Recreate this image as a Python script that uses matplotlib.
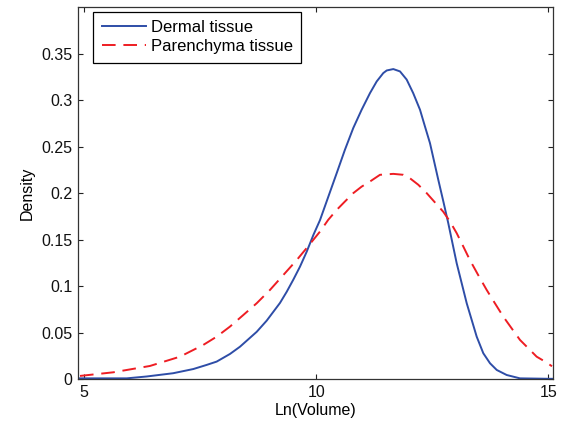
import matplotlib
matplotlib.use("Agg")
import matplotlib.pyplot as plt

plt.rcParams['font.family'] = ['Liberation Sans', 'DejaVu Sans']

dermal_x = [4.914, 5.92, 6.35, 6.92, 7.354, 7.64, 7.858, 8.144, 8.36, 8.72, 8.935, 9.221,
            9.366, 9.508, 9.652, 9.796, 9.94, 10.083, 10.443, 10.62, 10.80, 10.98, 11.16,
            11.304, 11.446, 11.52, 11.662, 11.806, 11.95, 12.09, 12.237, 12.344, 12.452,
            12.631, 12.74, 12.846, 13.027, 13.135, 13.243, 13.458, 13.6, 13.745, 13.89,
            14.104, 14.39, 15.037, 15.095]
dermal_y = [0.001, 0.001, 0.003, 0.0065, 0.011, 0.0154, 0.019, 0.0272, 0.035, 0.051, 0.063,
            0.082, 0.094, 0.107, 0.121, 0.137, 0.155, 0.171, 0.2215, 0.2466, 0.27, 0.2896,
            0.3075, 0.320, 0.329, 0.3318, 0.3333, 0.3308, 0.322, 0.3075, 0.2896, 0.2716,
            0.2537, 0.2143, 0.191, 0.1677, 0.1247, 0.1032, 0.0817, 0.0458, 0.028, 0.0172,
            0.010, 0.0046, 0.001, 0.0005, 0.0005]

paren_x = [4.914, 5.631, 6.42, 7.068, 7.569, 7.858, 8.144, 8.43, 8.72, 9.006, 9.293, 9.58,
           9.796, 10.083, 10.26, 10.443, 10.62, 10.80, 10.98, 11.16, 11.375, 11.662,
           11.877, 12.02, 12.2, 12.381, 12.738, 12.883, 13.027, 13.17, 13.313, 13.49,
           13.673, 13.85, 14.031, 14.21, 14.39, 14.57, 14.749, 14.93, 15.08]
paren_y = [0.0036, 0.0075, 0.0143, 0.0243, 0.0369, 0.0458, 0.0566, 0.069, 0.0817, 0.096,
           0.112, 0.128, 0.141, 0.1587, 0.1713, 0.182, 0.191, 0.2, 0.207, 0.2125, 0.2197,
           0.2207, 0.2197, 0.216, 0.209, 0.2, 0.180, 0.1695, 0.157, 0.1426, 0.128, 0.112,
           0.096, 0.0817, 0.0673, 0.0548, 0.0423, 0.0333, 0.0243, 0.019, 0.0140]

labels = ['Dermal tissue', 'Parenchyma tissue']
xticks = [5, 10, 15]
yticks = [0, 0.05, 0.1, 0.15, 0.2, 0.25, 0.3, 0.35]
yticklabels = ['0', '0.05', '0.1', '0.15', '0.2', '0.25', '0.3', '0.35']

FS = 11.5

fig = plt.figure(figsize=(5.66, 4.29), dpi=100)
ax = fig.add_axes([0.1383, 0.1159, 0.8382, 0.8678])

ax.plot(dermal_x, dermal_y, color='#2E4DA7', lw=1.4, label=labels[0])
ax.plot(paren_x, paren_y, color='#EE1D23', lw=1.4, dashes=(7, 4), label=labels[1])

ax.set_xlim(4.877, 15.095)
ax.set_ylim(0, 0.4)
ax.set_xticks(xticks)
ax.set_xticklabels([str(t) for t in xticks])
ax.set_yticks(yticks)
ax.set_yticklabels(yticklabels)
ax.tick_params(direction='in', length=3.5, width=0.8, top=True, right=True,
               labelsize=FS, pad=4, colors='#222222', labelcolor='#111111')
for s in ax.spines.values():
    s.set_color('#333333')
    s.set_linewidth(0.9)

ax.set_xlabel('Ln(Volume)', fontsize=FS, labelpad=2)
ax.set_ylabel('Density', fontsize=FS, labelpad=5)

leg = ax.legend(loc='upper left', bbox_to_anchor=(0.0316, 0.987), borderaxespad=0,
                fontsize=12, handlelength=2.65, handletextpad=0.3, labelspacing=0.25,
                borderpad=0.5, fancybox=False, framealpha=1, edgecolor='black')
leg.get_frame().set_linewidth(0.9)

fig.savefig('out.png', dpi=100)
